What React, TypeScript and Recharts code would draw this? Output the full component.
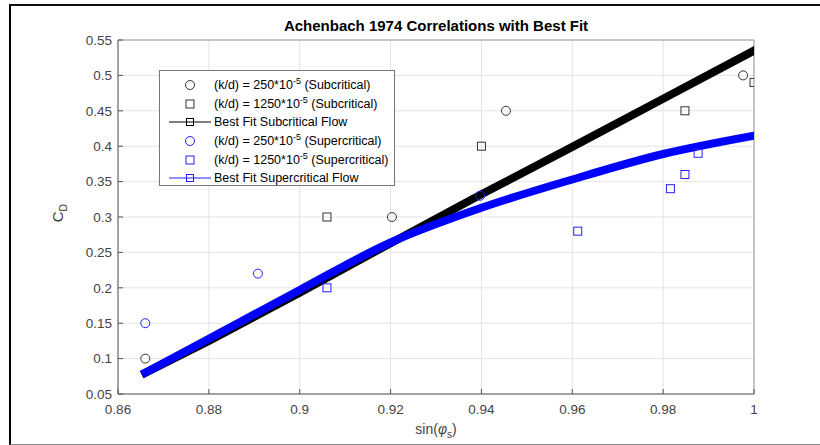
import { ComposedChart, Scatter, Line, XAxis, YAxis, CartesianGrid, ReferenceLine, Label } from 'recharts';

const xTicks = [0.86, 0.88, 0.9, 0.92, 0.94, 0.96, 0.98, 1];
const yTicks = [0.05, 0.1, 0.15, 0.2, 0.25, 0.3, 0.35, 0.4, 0.45, 0.5, 0.55];

// subcritical measurements
const subCircleX = [0.866, 0.9203, 0.9454, 0.9976];
const subCircleY = [0.1, 0.3, 0.45, 0.5];
const subSquareX = [0.906, 0.94, 0.9848, 1.0];
const subSquareY = [0.3, 0.4, 0.45, 0.49];

// supercritical measurements
const supCircleX = [0.866, 0.8908, 0.9397];
const supCircleY = [0.15, 0.22, 0.33];
const supSquareX = [0.906, 0.9612, 0.9816, 0.9848, 0.9877];
const supSquareY = [0.2, 0.28, 0.34, 0.36, 0.39];

// best fit curves
const fitX = [0.866, 0.88, 0.9, 0.92, 0.94, 0.96, 0.98, 1.0];
const fitSubY = [0.08, 0.125, 0.193, 0.263, 0.332, 0.399, 0.467, 0.535];
const fitSupY = [0.08, 0.128, 0.197, 0.264, 0.313, 0.353, 0.389, 0.415];

const zip = (xs: number[], ys: number[]) => xs.map((x, i) => ({ x, y: ys[i] }));

const BLACK = '#333333';
const BLUE = '#2020ff';
const FONT = '"Liberation Sans", Arial, sans-serif';

const circleShape = (color: string) => (props: any) => (
  <circle cx={props.cx} cy={props.cy} r={4.5} fill="none" stroke={color} strokeWidth={1} />
);
const squareShape = (color: string) => (props: any) => (
  <rect x={props.cx - 4} y={props.cy - 4} width={8} height={8} fill="none" stroke={color} strokeWidth={1} />
);

const legendRows = [
  { kind: 'circle', color: BLACK, k: '250', flow: 'Subcritical', top: 6 },
  { kind: 'square', color: BLACK, k: '1250', flow: 'Subcritical', top: 25 },
  { kind: 'line', color: '#000', label: 'Best Fit Subcritical Flow', top: 43 },
  { kind: 'circle', color: BLUE, k: '250', flow: 'Supercritical', top: 62 },
  { kind: 'square', color: BLUE, k: '1250', flow: 'Supercritical', top: 81 },
  { kind: 'line', color: BLUE, label: 'Best Fit Supercritical Flow', top: 99 },
];

const LegendMarker = ({ kind, color }: { kind: string; color: string }) => (
  <svg width={46} height={16} style={{ position: 'absolute', left: 8, top: 0 }}>
    {kind === 'circle' && <circle cx={22} cy={8} r={4.5} fill="none" stroke={color} />}
    {kind === 'square' && <rect x={18} y={4} width={8} height={8} fill="none" stroke={color} />}
    {kind === 'line' && (
      <>
        <line x1={1} y1={8} x2={43} y2={8} stroke={color} strokeWidth={1} />
        <rect x={18.5} y={4.5} width={7} height={7} fill="none" stroke={color} />
      </>
    )}
  </svg>
);

const ChartLegend = () => (
  <div
    style={{
      position: 'absolute', left: 159, top: 70, width: 236, height: 116,
      border: '1px solid #777', background: '#fff', boxSizing: 'border-box',
      fontFamily: FONT, fontSize: 12.5, color: '#000',
    }}
  >
    {legendRows.map((r, i) => (
      <div key={i} style={{ position: 'absolute', left: 0, top: r.top, height: 16, width: '100%' }}>
        <LegendMarker kind={r.kind} color={r.color} />
        <div style={{ position: 'absolute', left: 54, top: 0, whiteSpace: 'nowrap', lineHeight: '16px' }}>
          {r.kind === 'line' ? r.label : (
            <>
              (k/d) = {r.k}*10
              <span style={{ position: 'relative', top: -5, fontSize: 9 }}>-5</span> ({r.flow})
            </>
          )}
        </div>
      </div>
    ))}
  </div>
);

const App = () => {
  const tickStyle = { fill: '#444', fontSize: 13.5, fontFamily: FONT };
  return (
    <div style={{ position: 'absolute', left: 0, top: 0, width: 820, height: 445, background: '#fff' }}>
      <div
        style={{
          position: 'absolute', left: 9, top: 4, width: 830, height: 438,
          borderLeft: '2px solid #000', borderTop: '2px solid #111', borderBottom: '1px solid #888',
        }}
      />
      <div
        style={{
          position: 'absolute', left: 0, width: 872, top: 17, textAlign: 'center',
          fontFamily: FONT, fontWeight: 'bold', fontSize: 15, color: '#000',
        }}
      >
        Achenbach 1974 Correlations with Best Fit
      </div>
      <div style={{ position: 'absolute', left: 0, top: 0 }}>
        <ComposedChart width={820} height={445} margin={{ top: 40, right: 66, left: 58, bottom: 21 }}>
          <CartesianGrid stroke="#e4e4e4" strokeWidth={1} />
          <XAxis
            dataKey="x"
            type="number"
            domain={[0.86, 1]}
            ticks={xTicks}
            allowDataOverflow
            height={30}
            tick={tickStyle}
            tickSize={-5}
            tickMargin={15}
            tickFormatter={(v: number) => String(v)}
            axisLine={{ stroke: '#555' }}
            tickLine={{ stroke: '#555' }}
          >
            <Label
              content={() => (
                <text x={436} y={434} textAnchor="middle" fontSize={14} fontFamily={FONT} fill="#444">
                  sin(<tspan fontStyle="italic">φ</tspan>
                  <tspan fontSize={10} dy={4}>s</tspan>
                  <tspan dy={-4}>)</tspan>
                </text>
              )}
            />
          </XAxis>
          <YAxis
            type="number"
            domain={[0.05, 0.55]}
            ticks={yTicks}
            allowDataOverflow
            width={60}
            tick={tickStyle}
            tickSize={-5}
            tickMargin={11}
            tickFormatter={(v: number) => String(v)}
            axisLine={{ stroke: '#555' }}
            tickLine={{ stroke: '#555' }}
          >
            <Label
              content={() => (
                <text
                  x={63}
                  y={213}
                  transform="rotate(-90, 63, 213)"
                  textAnchor="middle"
                  fontSize={15}
                  fontFamily={FONT}
                  fill="#444"
                >
                  C<tspan fontSize={10.5} dy={4}>D</tspan>
                </text>
              )}
            />
          </YAxis>
          <ReferenceLine y={0.55} stroke="#999" />
          <ReferenceLine x={1} stroke="#999" />
          <Scatter data={zip(subCircleX, subCircleY)} dataKey="y" shape={circleShape(BLACK)} isAnimationActive={false} />
          <Scatter data={zip(subSquareX, subSquareY)} dataKey="y" shape={squareShape(BLACK)} isAnimationActive={false} />
          <Line
            data={zip(fitX, fitSubY)}
            dataKey="y"
            type="linear"
            stroke="#000"
            strokeWidth={8}
            strokeLinecap="square"
            dot={false}
            activeDot={false}
            isAnimationActive={false}
          />
          <Scatter data={zip(supCircleX, supCircleY)} dataKey="y" shape={circleShape(BLUE)} isAnimationActive={false} />
          <Scatter data={zip(supSquareX, supSquareY)} dataKey="y" shape={squareShape(BLUE)} isAnimationActive={false} />
          <Line
            data={zip(fitX, fitSupY)}
            dataKey="y"
            type="monotone"
            stroke="#0000ff"
            strokeWidth={8}
            strokeLinecap="square"
            dot={false}
            activeDot={false}
            isAnimationActive={false}
          />
        </ComposedChart>
      </div>
      <ChartLegend />
    </div>
  );
};

export default App;
